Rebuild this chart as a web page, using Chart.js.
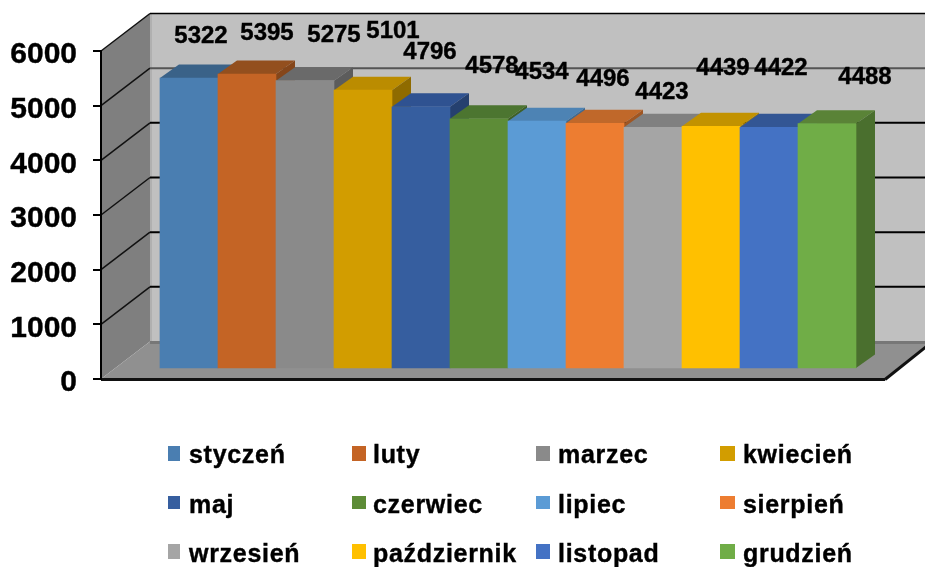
<!DOCTYPE html>
<html lang="pl">
<head>
<meta charset="utf-8">
<title>Wykres</title>
<script src="https://cdn.jsdelivr.net/npm/chart.js@4"></script>
<style>
    html, body { margin: 0; padding: 0; background: #fff; }
    canvas { display: block; }
</style>
</head>
<body>
<canvas id="monthsChart" width="925" height="567"></canvas>
<script>
const months = ['styczeń', 'luty', 'marzec', 'kwiecień', 'maj', 'czerwiec', 'lipiec', 'sierpień', 'wrzesień', 'październik', 'listopad', 'grudzień'];
const monthValues = [5322, 5395, 5275, 5101, 4796, 4578, 4534, 4496, 4423, 4439, 4422, 4488];
const yTicks = [0, 1000, 2000, 3000, 4000, 5000, 6000];

const frontColours = ['#4a7eb1', '#c46425', '#8a8a8a', '#d29d00', '#365e9f', '#5d8c37', '#5b9bd5', '#ed7d31', '#a5a5a5', '#ffc000', '#4472c4', '#70ad47'];
const topColours = ['#3a6288', '#934f1e', '#6a6a6a', '#bb8c00', '#2f5291', '#4c7530', '#4d83b4', '#c0682a', '#808080', '#c29200', '#335694', '#5a8337'];
const sideColours = ['#335675', '#85461a', '#5c5c5c', '#8f6b00', '#25406f', '#3f6027', '#3e6a92', '#a05622', '#6f6f6f', '#a87f00', '#2c4a80', '#4a6f2e'];

// the labels were placed by hand in the original, offset from each bar top
const labelOffsetX = [12, 20, 29, 30, 9, 13, 5, 8, 9, 12, 12, 38];
const labelOffsetY = [-42, -41, -45, -59, -54, -52, -49, -44, -35, -58, -59, -46];

const fontFamily = '"Liberation Sans", Arial, sans-serif';

// 3D look: the depth of the walls and of the bars, bars stand in from the front edge
const wallDepth = { x: 49, y: -37.5 };
const barDepth = { x: 19, y: -13.5 };
const barLift = -10;

function poly(ctx, points, colour) {
    ctx.beginPath();
    ctx.moveTo(points[0][0], points[0][1]);
    points.slice(1).forEach(p => ctx.lineTo(p[0], p[1]));
    ctx.closePath();
    ctx.fillStyle = colour;
    ctx.fill();
}

function line(ctx, x1, y1, x2, y2, colour, width) {
    ctx.beginPath();
    ctx.moveTo(x1, y1);
    ctx.lineTo(x2, y2);
    ctx.strokeStyle = colour;
    ctx.lineWidth = width;
    ctx.stroke();
}

const wallsPlugin = {
    id: 'walls',
    beforeDraw(chart) {
        const ctx = chart.ctx;
        const yScale = chart.scales.y;
        const area = chart.chartArea;
        const left = area.left;
        const bottom = yScale.getPixelForValue(0);
        const top = yScale.getPixelForValue(6000);
        const backLeft = left + wallDepth.x;
        const backBottom = bottom + wallDepth.y;
        const backTop = top + wallDepth.y;
        const backRight = chart.width + 7;

        ctx.save();
        poly(ctx, [[backLeft, backTop], [backRight, backTop], [backRight, backBottom], [backLeft, backBottom]], '#c0c0c0');
        poly(ctx, [[left, top], [backLeft, backTop], [backLeft, backBottom], [left, bottom]], '#7f7f7f');
        poly(ctx, [[left, bottom], [backLeft, backBottom], [backRight, backBottom], [area.right, bottom]], '#909090');
        line(ctx, backLeft + 1, backTop, backLeft + 1, backBottom, '#b0b0b0', 2);
        line(ctx, backLeft, backBottom + 1, backRight, backBottom + 1, '#777777', 3);

        yTicks.slice(1).forEach(value => {
            const y = yScale.getPixelForValue(value);
            const colour = value === 5000 ? '#555555' : '#000000';
            line(ctx, left, y, backLeft, y + wallDepth.y, '#111111', 1.5);
            line(ctx, backLeft, y + wallDepth.y, backRight, y + wallDepth.y, colour, value === 6000 ? 1.5 : 2);
        });

        // front edge of the floor
        line(ctx, left, bottom + 0.5, area.right, bottom + 0.5, '#111111', 3);
        line(ctx, area.right, bottom + 0.5, backRight, backBottom + 0.5, '#111111', 3);
        ctx.restore();
    },
    beforeDatasetsDraw(chart) {
        const ctx = chart.ctx;
        const bars = chart.getDatasetMeta(0).data;

        ctx.save();
        ctx.translate(0, barLift);
        bars.forEach((bar, i) => {
            const p = bar.getProps(['x', 'y', 'base', 'width'], true);
            const l = p.x - p.width / 2;
            const r = p.x + p.width / 2;
            poly(ctx, [[l, p.y], [l + barDepth.x, p.y + barDepth.y], [r + barDepth.x, p.y + barDepth.y], [r, p.y]], topColours[i]);
            poly(ctx, [[r, p.y], [r + barDepth.x, p.y + barDepth.y], [r + barDepth.x, p.base + barDepth.y], [r, p.base]], sideColours[i]);
        });
    },
    afterDatasetsDraw(chart) {
        const ctx = chart.ctx;
        ctx.restore();

        // value labels
        const bars = chart.getDatasetMeta(0).data;
        ctx.save();
        ctx.fillStyle = '#000';
        ctx.strokeStyle = '#000';
        ctx.lineWidth = 0.4;
        ctx.font = 'bold 24px ' + fontFamily;
        ctx.textAlign = 'center';
        ctx.textBaseline = 'middle';
        bars.forEach((bar, i) => {
            const p = bar.getProps(['x', 'y'], true);
            const lx = p.x + labelOffsetX[i];
            const ly = p.y + barLift + labelOffsetY[i];
            ctx.fillText(String(monthValues[i]), lx, ly);
            ctx.strokeText(String(monthValues[i]), lx, ly);
        });
        ctx.restore();

        // legend: the original has a fixed four column grid, a bit uneven
        const boxX = [168, 352, 536, 720];
        const boxW = [12, 14, 14, 15];
        const textX = [189, 373, 558, 743];
        const rowTop = [446, 496, 544];
        const rowH = [15, 13, 15];
        const rowBaseline = [463, 513, 562];
        ctx.save();
        ctx.font = 'bold 25px ' + fontFamily;
        ctx.letterSpacing = '0.7px';
        ctx.textAlign = 'left';
        ctx.textBaseline = 'alphabetic';
        ctx.strokeStyle = '#000';
        ctx.lineWidth = 0.4;
        months.forEach((month, i) => {
            const col = i % 4;
            const row = Math.floor(i / 4);
            ctx.fillStyle = frontColours[i];
            ctx.fillRect(boxX[col], rowTop[row], boxW[col], rowH[row]);
            ctx.fillStyle = '#000';
            ctx.fillText(month, textX[col], rowBaseline[row]);
            ctx.strokeText(month, textX[col], rowBaseline[row]);
        });
        ctx.restore();
    }
};

const monthsCtx = document.getElementById('monthsChart').getContext('2d');
new Chart(monthsCtx, {
    type: 'bar',
    data: {
        labels: months,
        datasets: [{
            data: monthValues.map((value, i) => ({ x: i, y: value })),
            backgroundColor: frontColours,
            borderWidth: 0,
            barPercentage: 1,
            categoryPercentage: 1,
            clip: false
        }]
    },
    options: {
        responsive: false,
        animation: false,
        layout: {
            padding: { left: 0, right: 40, top: 51, bottom: 188 }
        },
        plugins: {
            legend: { display: false },
            tooltip: { enabled: false }
        },
        scales: {
            x: {
                type: 'linear',
                offset: false,
                // leaves room for the side wall on the left and the depth on the right
                min: -1.517,
                max: 12,
                display: false
            },
            y: {
                min: 0,
                max: 6000,
                afterFit(scale) {
                    scale.width = 101;
                },
                afterBuildTicks(scale) {
                    scale.ticks = yTicks.map(value => ({ value: value }));
                },
                border: { color: '#000', width: 2 },
                grid: {
                    drawOnChartArea: false,
                    color: '#000',
                    lineWidth: 2,
                    tickLength: 8
                },
                ticks: {
                    color: '#000',
                    padding: 16,
                    labelOffset: 4,
                    textStrokeColor: '#000',
                    textStrokeWidth: 0.4,
                    callback: value => String(value),
                    font: { family: fontFamily, size: 30, weight: 'bold' }
                }
            }
        }
    },
    plugins: [wallsPlugin]
});
</script>
</body>
</html>
